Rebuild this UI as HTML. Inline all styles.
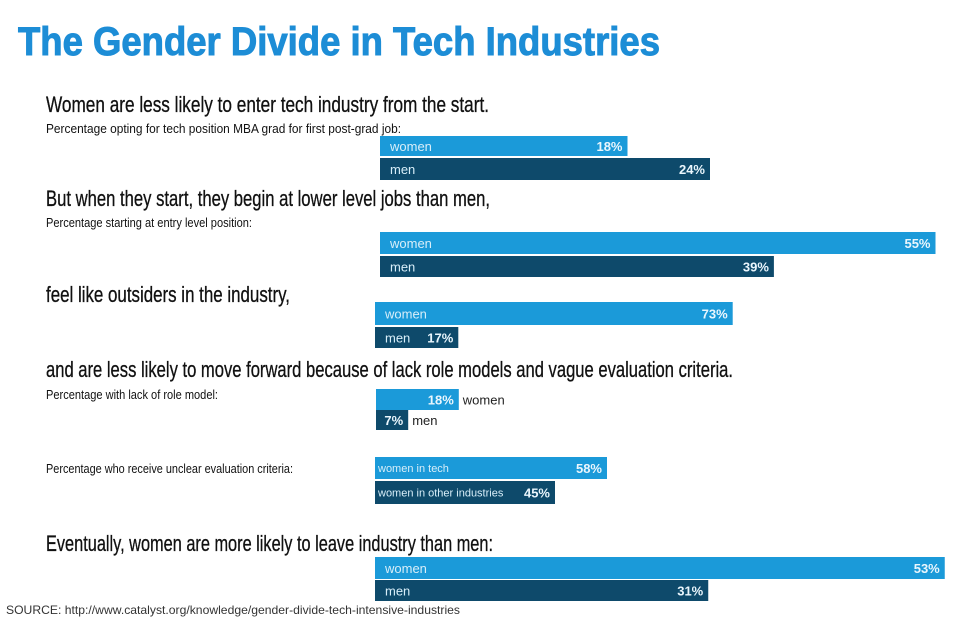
<!DOCTYPE html>
<html><head><meta charset="utf-8"><style>
html,body{margin:0;padding:0;background:#fff;}
svg{display:block;}
text{font-family:"Liberation Sans",sans-serif;}
.h{font-size:22px;fill:#111;stroke:#111;stroke-width:0.3;}
.s{font-size:13px;fill:#111;}
.lbl{font-size:13px;fill:#d8eef9;}
.val{font-size:13px;font-weight:bold;fill:#eaf6fd;}
</style></head><body>
<svg id="chart" width="975" height="617" viewBox="0 0 975 617" xmlns="http://www.w3.org/2000/svg">
<text x="18" y="55" font-size="40" font-weight="bold" fill="#1d8dd6" stroke="#1d8dd6" stroke-width="1" textLength="642" lengthAdjust="spacingAndGlyphs">The Gender Divide in Tech Industries</text>
<text class="h" x="46" y="112" textLength="443" lengthAdjust="spacingAndGlyphs">Women are less likely to enter tech industry from the start.</text>
<text class="s" x="46" y="133" textLength="355" lengthAdjust="spacingAndGlyphs">Percentage opting for tech position MBA grad for first post-grad job:</text>
<text class="h" x="46" y="206" textLength="444" lengthAdjust="spacingAndGlyphs">But when they start, they begin at lower level jobs than men,</text>
<text class="s" x="46" y="227" textLength="206" lengthAdjust="spacingAndGlyphs">Percentage starting at entry level position:</text>
<text class="h" x="46" y="302" textLength="244" lengthAdjust="spacingAndGlyphs">feel like outsiders in the industry,</text>
<text class="h" x="46" y="377" textLength="687" lengthAdjust="spacingAndGlyphs">and are less likely to move forward because of lack role models and vague evaluation criteria.</text>
<text class="s" x="46" y="399" textLength="172" lengthAdjust="spacingAndGlyphs">Percentage with lack of role model:</text>
<text class="s" x="46" y="473" textLength="247" lengthAdjust="spacingAndGlyphs">Percentage who receive unclear evaluation criteria:</text>
<text class="h" x="46" y="551" textLength="447" lengthAdjust="spacingAndGlyphs">Eventually, women are more likely to leave industry than men:</text>
<text x="6" y="614" font-size="12" fill="#333" textLength="454" lengthAdjust="spacingAndGlyphs">SOURCE: http://www.catalyst.org/knowledge/gender-divide-tech-intensive-industries</text>
<g id="bars"></g>
</svg>
<script>
const groupNames = ['mba-first-job','entry-level','outsiders','role-model','evaluation','leave'];
const womenValues = [18, 55, 73, 18, 58, 53];
const otherValues = [24, 39, 17, 7, 45, 31];
const womenLabels = ['women','women','women','women','women in tech','women'];
const otherLabels = ['men','men','men','men','women in other industries','men'];
// layout (not data)
const x0 = [380, 380, 375, 376, 375, 375];
const pxPerPct = [13.75, 10.1, 4.9, 4.6, 4.0, 10.75];
const rowTop = [[136,158],[232,256],[302,327],[389,410],[457,481],[557,580]];
const rowH = [[20,22],[22,21],[23,21],[21,20],[22,23],[22,21]];
const outsideLabels = [false,false,false,true,false,false];
const ns = 'http://www.w3.org/2000/svg';
const g = document.getElementById('bars');
function xScale(i, v){ return x0[i] + v * pxPerPct[i]; }
function mk(tag, attrs){ const e=document.createElementNS(ns,tag); for(const k in attrs) e.setAttribute(k, attrs[k]); g.appendChild(e); return e; }
for(let i=0;i<groupNames.length;i++){
  const vals=[womenValues[i], otherValues[i]];
  const labs=[womenLabels[i], otherLabels[i]];
  for(let j=0;j<2;j++){
    const w = xScale(i, vals[j]) - x0[i];
    const y = rowTop[i][j], h = rowH[i][j];
    const r = mk('rect',{x:x0[i],y:y,width:w,height:h,fill:j===0?'#1b9ad9':'#0e4a6b'});
    
    
    const v = mk('text',{x:x0[i]+w-5,y:y+h/2+5,'text-anchor':'end',class:'val'});
    v.textContent = vals[j]+'%';
    
    
    let lx, fill=null;
    if(outsideLabels[i]){ lx = x0[i]+w+4; fill='#222'; }
    else lx = x0[i]+ (i===4?3:10);
    const l = mk('text',{x:lx,y:y+h/2+(i===4?4:5),class:'lbl','font-size':i===4?'11':'13'});
    if(i===4) l.style.fontSize='11px';
    if(fill) l.style.fill=fill;
    l.textContent = labs[j];
    
    
  }
}
</script>
</body></html>
